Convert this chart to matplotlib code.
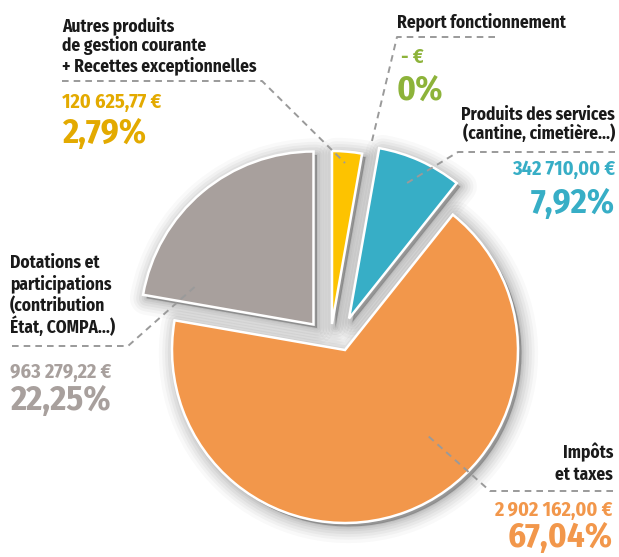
import matplotlib
matplotlib.use("Agg")
import matplotlib.pyplot as plt
from matplotlib.patches import Shadow

# ---------------- data ----------------
categories = [
    "Autres produits\nde gestion courante\n+ Recettes exceptionnelles",
    "Report fonctionnement",
    "Produits des services\n(cantine, cimetière…)",
    "Impôts\net taxes",
    "Dotations et\nparticipations\n(contribution\nÉtat, COMPA…)",
]
amounts = [120625.77, 0.0, 342710.00, 2902162.00, 963279.22]
amount_labels = ["120 625,77 €", "- €", "342 710,00 €", "2 902 162,00 €", "963 279,22 €"]
percent_labels = ["2,79%", "0%", "7,92%", "67,04%", "22,25%"]

# ---------------- style ----------------
wedge_colors = ["#FDC300", "#8DB33A", "#37AEC6", "#F2974B", "#A8A09D"]
text_colors = ["#E3AA00", "#8DB33A", "#37AEC6", "#F2974B", "#A8A09D"]
FONT = ["Fira Sans Condensed", "PT Sans Narrow", "DejaVu Sans"]
W, H = 619, 557
C = (335, 335)
R = 173
# per-slice displacement of each slice (pixels, image coords)
slice_offsets = [(-3, -11), (0, 0), (14, -16.5), (10, 15), (-21.5, -10.5)]

# label layout: x, ha, first label baseline, line spacing, amount baseline,
# percent baseline, leader polyline
layout = [
    dict(x=62, ha="left", lb=31, ls=20, ab=108, pb=143,
         leader=[(62, 81), (262, 81), (345, 163)]),
    dict(x=397, ha="left", lb=27, ls=20, ab=63, pb=100,
         leader=[(495, 37), (397, 37), (371, 145)], ax_=401),
    dict(x=615, ha="right", lb=120, ls=19.3, ab=175, pb=213,
         leader=[(615, 152), (458, 152), (407, 183)]),
    dict(x=613, ha="right", lb=458, ls=22, ab=516, pb=547,
         leader=[(613, 491), (490, 491), (427, 435)]),
    dict(x=10, ha="left", lb=268, ls=21.7, ab=378, pb=410,
         leader=[(12, 346), (128, 346), (198, 284)]),
]

fig = plt.figure(figsize=(W / 100, H / 100), dpi=100)
ax = fig.add_axes([0, 0, 1, 1])

wedges, _ = ax.pie(amounts, colors=wedge_colors, radius=R, center=C,
                   startangle=-90, counterclock=True,
                   wedgeprops=dict(edgecolor="white", linewidth=1.8),
                   frame=True)
ax.set_xlim(0, W)
ax.set_ylim(H, 0)
ax.axis("off")

for w, amt, off in zip(wedges, amounts, slice_offsets):
    w.set_center((C[0] + off[0], C[1] + off[1]))
    w.set_zorder(2)
    if amt == 0:
        w.set_visible(False)
        continue
    for lw, a in [(24, 0.025), (19, 0.03), (15, 0.035), (11, 0.04),
                  (7, 0.045), (4, 0.05), (1.5, 0.05)]:
        s = Shadow(w, 2.5, 2.5, facecolor="black", edgecolor="black",
                   linewidth=lw, alpha=a, zorder=1, joinstyle="round")
        ax.add_patch(s)

for i, lay in enumerate(layout):
    xs = [p[0] for p in lay["leader"]]
    ys = [p[1] for p in lay["leader"]]
    ax.plot(xs, ys, color="#9a9a9a", lw=1.4, ls=(0, (3.4, 2.6)), zorder=4,
            dash_capstyle="butt")
    for j, line in enumerate(categories[i].split("\n")):
        ax.text(lay["x"], lay["lb"] + j * lay["ls"], line, ha=lay["ha"],
                va="baseline", fontsize=12.5, fontweight="bold",
                family=FONT, color="#1a1a1a")
    ax.text(lay.get("ax_", lay["x"]), lay["ab"], amount_labels[i], ha=lay["ha"],
            va="baseline", fontsize=14.5, fontweight="bold", family=FONT,
            color=text_colors[i])
    ax.text(lay["x"], lay["pb"], percent_labels[i], ha=lay["ha"],
            va="baseline", fontsize=25, fontweight="bold", family=FONT,
            color=text_colors[i])

fig.savefig("out.png", dpi=100, facecolor="white")
